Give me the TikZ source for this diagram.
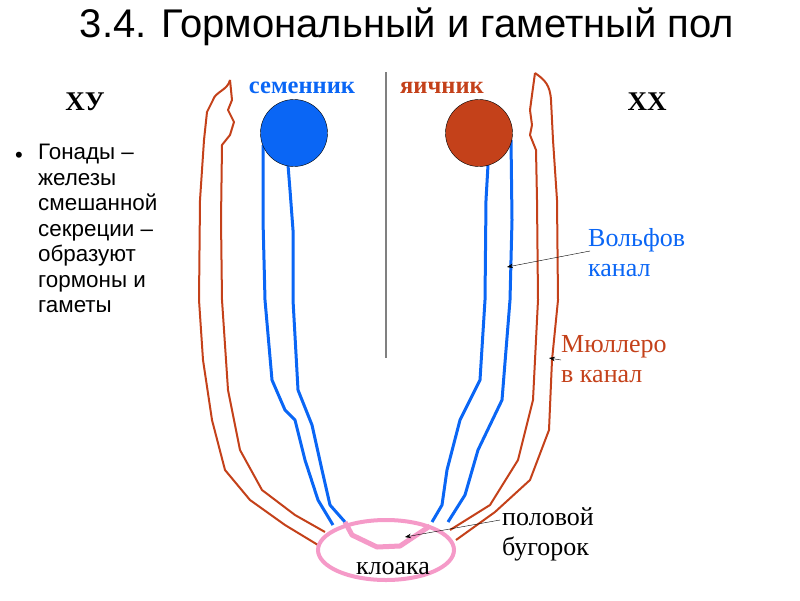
\documentclass[tikz,border=0pt]{standalone}
\usepackage{fontspec}
\usetikzlibrary{arrows.meta}
\setmainfont{Liberation Serif}
\newfontfamily\sans{Liberation Sans}
\begin{document}
\begin{tikzpicture}[x=1pt,y=-1pt,
  org/.style={draw=orgc,line width=2pt,line join=round},
  blu/.style={draw=bluc,line width=3pt,line join=round},
  lab/.style={font=\fontsize{26}{30}\selectfont,anchor=west,inner sep=0},
  arr/.style={-{Stealth[length=6pt]},thin,black}]
\definecolor{orgc}{HTML}{C4411A}
\definecolor{bluc}{HTML}{0A66F5}
\definecolor{pinkc}{HTML}{F59AC8}
\useasboundingbox (0,0) rectangle (800,600);
\node[font=\sans\fontsize{40}{44}\selectfont] (title) at (407,27) {3.4. Гормональный и гаметный пол};
\node[font=\bfseries\fontsize{27}{30}\selectfont] (xy) at (85,102) {ХУ};
\node[font=\bfseries\fontsize{27}{30}\selectfont] (xx) at (647,102) {ХХ};
\node[font=\sans\fontsize{22}{26}\selectfont] (bul) at (19,157) {•};
\node[font=\sans\fontsize{22.4}{25.5}\selectfont,anchor=north west,align=left,inner sep=0] (gon) at (38,144) {Гонады –\\железы\\смешанной\\секреции –\\образуют\\гормоны и\\гаметы};
\draw[gray,line width=1.5pt] (386,72) -- (386,358);
% orange tubes
\draw[org] (230,80) .. controls (228,90) and (215,92) .. (213,100) -- (207,112) -- (204,140) -- (200,200) -- (199,300) -- (203,360) -- (212,420) -- (225,470) -- (250,500) -- (285,525) -- (318,545);
\draw[org] (230,80) -- (232,100) -- (228,110) -- (234,122) -- (230,135) -- (222,145) -- (221,220) -- (222,300) -- (228,390) -- (240,450) -- (262,490) -- (295,515) -- (325,532);
\draw[org] (535,73) .. controls (545,80) and (550,85) .. (551,100) -- (553,140) -- (557,200) -- (558,300) -- (552,360) -- (549,430) -- (530,480) -- (495,512) -- (456,540);
\draw[org] (535,73) -- (532,95) -- (530,110) -- (532,125) -- (530,135) -- (536,150) -- (537,200) -- (538,300) -- (533,400) -- (518,460) -- (490,505) -- (450,530);
% blue ducts
\draw[blu] (263,145) -- (263,220) -- (265,300) -- (272,380) -- (285,410) -- (295,420) -- (305,460) -- (318,500) -- (333,525);
\draw[blu] (288,165) -- (290,190) -- (293,230) -- (293,300) -- (298,390) -- (312,425) -- (322,470) -- (330,505) -- (345,522);
\draw[blu] (488,165) -- (486,200) -- (485,300) -- (480,380) -- (460,420) -- (447,470) -- (442,505) -- (432,522);
\draw[blu] (511,140) -- (512,220) -- (510,300) -- (502,400) -- (478,450) -- (465,495) -- (448,522);
\node[circle,draw=black,fill=bluc,minimum size=67pt,inner sep=0] (testis) at (294,133) {};
\node[circle,draw=black,fill=orgc,minimum size=67pt,inner sep=0] (ovary) at (479,133) {};
% pink
\draw[pinkc,line width=4pt] (386,550) ellipse [x radius=68,y radius=30];
\draw[pinkc,line width=5pt,line join=round] (345,522) -- (352,535) -- (377,547) -- (400,546) -- (418,534) -- (430,526);
\coordinate (bug) at (405,537);
\coordinate (wolf) at (507,267);
\coordinate (mul) at (549,358);
% labels
\node[font=\bfseries\fontsize{24.5}{28}\selectfont,text=bluc] (sem) at (302,88) {семенник};
\node[font=\bfseries\fontsize{24.5}{28}\selectfont,text=orgc] (yai) at (442,88) {яичник};
\node[lab,text=bluc,align=left,anchor=north west] (wl) at (588,228) {Вольфов\\канал};
\node[lab,text=orgc,align=left,anchor=north west] (ml) at (561,335) {Мюллеро\\в канал};
\node[lab,align=left,anchor=north west] (pb) at (502,507) {половой\\бугорок};
\node[font=\fontsize{26}{30}\selectfont] (klo) at (393,568) {клоака};
\draw[arr] (590,251) -- (wolf);
\draw[arr] (561,360) -- (mul);
\draw[arr] (500,520) -- (bug);
\end{tikzpicture}
\end{document}
